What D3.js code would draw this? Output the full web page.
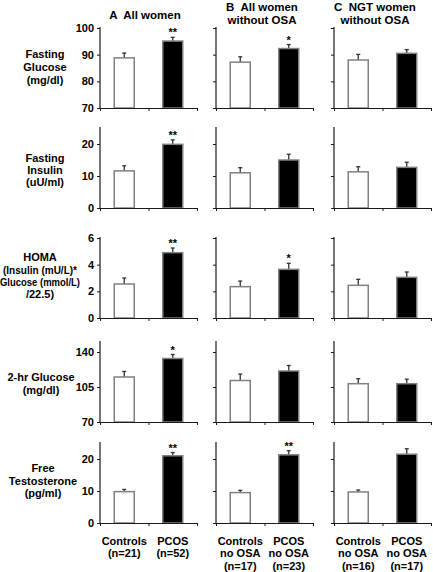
<!DOCTYPE html>
<html>
<head>
<meta charset="utf-8">
<script src="https://cdn.jsdelivr.net/npm/d3@7"></script>
<style>
  html, body { margin: 0; padding: 0; background: #fff; }
  svg { display: block; }
  text { font-family: "Liberation Sans", Arial, sans-serif; font-weight: bold; fill: #000; white-space: pre; }
</style>
</head>
<body>
<svg id="chart" width="433" height="572"></svg>
<script>
// ---------- DATA ----------
const panelTitles = [
  ["A  All women"],
  ["B  All women", "without OSA"],
  ["C  NGT women", "without OSA"]
];
const groupLabels = [
  [["Controls", "(n=21)"], ["PCOS", "(n=52)"]],
  [["Controls", "no OSA", "(n=17)"], ["PCOS", "no OSA", "(n=23)"]],
  [["Controls", "no OSA", "(n=16)"], ["PCOS", "no OSA", "(n=17)"]]
];
const rowLabels = [
  ["Fasting", "Glucose", "(mg/dl)"],
  ["Fasting", "Insulin", "(uU/ml)"],
  ["HOMA", "(Insulin (mU/L)*", "Glucose (mmol/L)", "/22.5)"],
  ["2-hr Glucose", "(mg/dl)"],
  ["Free", "Testosterone", "(pg/ml)"]
];
const yDomains = [[70, 100], [0, 25], [0, 6], [70, 150], [0, 25]];
const yTicks = [[70, 80, 90, 100], [0, 10, 20], [0, 2, 4, 6], [70, 105, 140], [0, 10, 20]];

// values per row: [panel A, panel B, panel C], each [Controls, PCOS]
const glucoseMean = [[88.8, 95.1], [87.2, 92.3], [88.0, 90.5]];
const glucoseErr  = [[1.8, 1.4], [2.0, 1.5], [2.1, 1.4]];
const insulinMean = [[11.6, 19.9], [11.0, 15.0], [11.3, 12.7]];
const insulinErr  = [[1.6, 1.4], [1.6, 1.8], [1.6, 1.6]];
const homaMean    = [[2.55, 4.9], [2.35, 3.65], [2.45, 3.05]];
const homaErr     = [[0.45, 0.35], [0.42, 0.45], [0.45, 0.4]];
const glu2hMean   = [[115, 133.5], [111.5, 121], [108.3, 108.3]];
const glu2hErr    = [[5.5, 4.0], [6.5, 5.5], [5.0, 4.5]];
const testoMean   = [[9.8, 21.0], [9.5, 21.3], [9.7, 21.5]];
const testoErr    = [[0.7, 1.0], [0.7, 1.3], [0.6, 1.7]];
const significance = [
  [["", "**"], ["", "*"], ["", ""]],
  [["", "**"], ["", ""], ["", ""]],
  [["", "**"], ["", "*"], ["", ""]],
  [["", "*"], ["", ""], ["", ""]],
  [["", "**"], ["", "**"], ["", ""]]
];
const means = [glucoseMean, insulinMean, homaMean, glu2hMean, testoMean];
const errs = [glucoseErr, insulinErr, homaErr, glu2hErr, testoErr];
const groups = ["Controls", "PCOS"];

// ---------- LAYOUT ----------
const svg = d3.select("#chart");
const colX = [100, 216, 334];
const colW = 97;
const rowTop = [28, 128, 238, 342, 443];
const rowH = 80;
const barW = 20;
const axisColor = "#1a1a1a";
const barStroke = "#808080";

// Panel titles
panelTitles.forEach((lines, c) => {
  const cx = [145, 262, 375][c];
  const y0 = lines.length === 1 ? 15 : 7;
  lines.forEach((t, i) => {
    svg.append("text").attr("x", cx).attr("y", y0 + i * 13)
      .attr("dy", "0.35em").attr("text-anchor", "middle")
      .attr("font-size", 11.5).text(t);
  });
});

// Row labels
const rowLabelY = [[54, 67, 80], [158, 170, 182], [257, 270, 282, 294], [377, 390], [468, 481, 493]];
const rowLabelX = [45, 45, 40, 41, 43];
const homaFit = [null, 74, 80, null];
rowLabels.forEach((lines, r) => {
  lines.forEach((t, i) => {
    const txt = svg.append("text").attr("x", rowLabelX[r]).attr("y", rowLabelY[r][i])
      .attr("dy", "0.35em").attr("text-anchor", "middle")
      .attr("font-size", r === 2 && homaFit[i] ? 10.5 : 11).text(t);
    if (r === 2 && homaFit[i]) {
      txt.attr("textLength", homaFit[i]).attr("lengthAdjust", "spacingAndGlyphs");
    }
  });
});

// Panels
means.forEach((rowVals, r) => {
  const y = d3.scaleLinear().domain(yDomains[r]).range([rowTop[r] + rowH, rowTop[r]]);
  rowVals.forEach((vals, c) => {
    const x0 = colX[c];
    const x = d3.scaleBand().domain(groups).range([x0, x0 + colW]).padding(0);
    const g = svg.append("g");

    groups.forEach((grp, k) => {
      const cx = x(grp) + x.bandwidth() / 2;
      const v = vals[k];
      const e = errs[r][c][k];
      g.append("line").attr("x1", cx).attr("x2", cx)
        .attr("y1", y(v)).attr("y2", y(v + e))
        .attr("stroke", "#333").attr("stroke-width", 1.3);
      g.append("line").attr("x1", cx - 2).attr("x2", cx + 2)
        .attr("y1", y(v + e)).attr("y2", y(v + e))
        .attr("stroke", "#333").attr("stroke-width", 1.3);
      g.append("rect")
        .attr("x", cx - barW / 2).attr("width", barW)
        .attr("y", y(v)).attr("height", y(yDomains[r][0]) - y(v))
        .attr("fill", k === 0 ? "#ffffff" : "#000000")
        .attr("stroke", barStroke).attr("stroke-width", 1.5);
      const s = significance[r][c][k];
      if (s) {
        g.append("text").attr("x", cx).attr("y", y(v + e) - 1)
          .attr("text-anchor", "middle").attr("font-size", 11).text(s);
      }
    });

    // y axis
    const yAxis = d3.axisLeft(y).tickValues(yTicks[r]).tickSize(3).tickSizeOuter(0)
      .tickPadding(3).tickFormat(c === 0 ? d3.format("d") : () => "");
    const ya = svg.append("g").attr("transform", `translate(${x0},0)`).call(yAxis);
    ya.select(".domain").attr("stroke", axisColor).attr("stroke-width", 1.2)
      .attr("d", `M0,${rowTop[r] - 1}V${rowTop[r] + rowH}`);
    ya.selectAll(".tick line").attr("stroke", axisColor);
    ya.selectAll(".tick text").attr("font-size", 11).attr("font-family", "Liberation Sans, Arial, sans-serif")
      .attr("font-weight", "bold").attr("fill", "#000");

    // x axis
    const xl = d3.scaleLinear().domain([0, 2]).range([x0, x0 + colW]);
    const xAxis = d3.axisBottom(xl).tickValues([0, 1, 2]).tickSize(3).tickSizeOuter(0).tickFormat(() => "");
    const xa = svg.append("g").attr("transform", `translate(0,${rowTop[r] + rowH})`).call(xAxis);
    xa.select(".domain").attr("stroke", axisColor).attr("stroke-width", 1.2);
    xa.selectAll(".tick line").attr("stroke", axisColor);

    if (r === means.length - 1) {
      groupLabels[c].forEach((lines, k) => {
        const cx = x(groups[k]) + x.bandwidth() / 2;
        lines.forEach((t, i) => {
          svg.append("text").attr("x", cx).attr("y", 541 + i * 12.5)
            .attr("dy", "0.35em").attr("text-anchor", "middle")
            .attr("font-size", 11).text(t);
        });
      });
    }
  });
});
</script>
</body>
</html>
